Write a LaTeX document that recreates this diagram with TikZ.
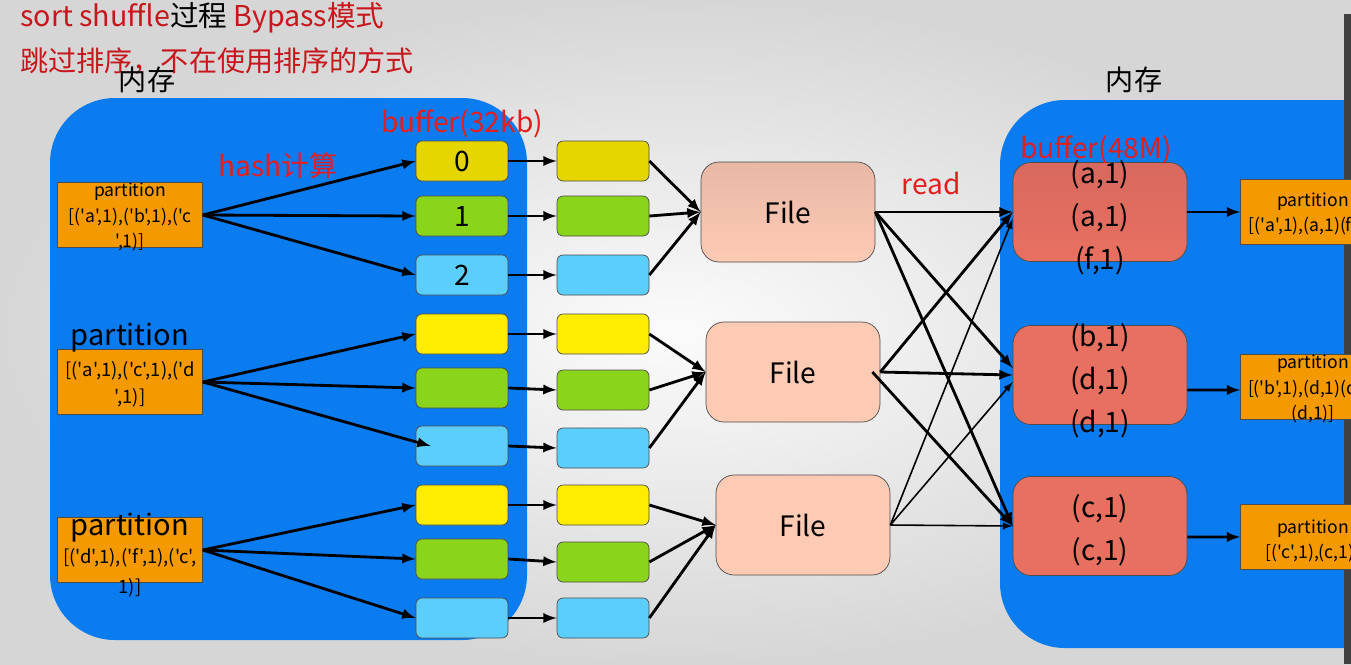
\documentclass[tikz,border=0pt]{standalone}
\usepackage{fontspec}
\newfontfamily\slidefont{Noto Sans CJK SC}
\usetikzlibrary{arrows}

\definecolor{memblue}{RGB}{10,124,240}
\definecolor{partorange}{RGB}{245,153,0}
\definecolor{bufolive}{RGB}{229,214,0}
\definecolor{bufyellow}{RGB}{255,236,0}
\definecolor{bufgreen}{RGB}{138,213,27}
\definecolor{bufblue}{RGB}{92,206,251}
\definecolor{filepeach}{RGB}{253,202,180}
\definecolor{filetop}{RGB}{232,184,166}
\definecolor{memred}{RGB}{232,112,96}
\definecolor{memredtop}{RGB}{216,105,95}
\definecolor{lblred}{RGB}{228,30,30}
\definecolor{titlered}{RGB}{200,22,29}

\begin{document}
\slidefont
\begin{tikzpicture}[x=0.02cm,y=-0.02cm,
  bufbox/.style={draw=gray!60!black,rounded corners=0.12cm,minimum width=1.84cm,minimum height=0.8cm,inner sep=0pt,font=\fontsize{16}{16}\selectfont},
  filebox/.style={draw=gray!60!black,fill=filepeach,rounded corners=0.36cm,minimum width=3.48cm,minimum height=2cm,font=\fontsize{16}{16}\selectfont},
  rambox/.style={draw=gray!60!black,fill=memred,rounded corners=0.36cm,minimum width=3.48cm,minimum height=1.98cm},
  partbox/.style={draw=gray!60!black,fill=partorange,minimum width=2.9cm,minimum height=1.3cm,inner sep=0pt},
  smalltxt/.style={align=center,inner sep=0pt,font=\fontsize{10}{14.5}\selectfont},
  pairtxt/.style={align=center,inner sep=0pt,font=\fontsize{16}{24.5}\selectfont},
  redlbl/.style={text=lblred,inner sep=0pt,font=\fontsize{16}{16}\selectfont},
  blacklbl/.style={inner sep=0pt,font=\fontsize{16}{16}\selectfont},
  link/.style={-latex,line width=1.6pt},
  thinlink/.style={-latex,line width=0.9pt}]
\useasboundingbox (0,0) rectangle (1351,664);
\clip (0,0) rectangle (1351,664);
% slide background
\shade[inner color=gray!3,outer color=gray!32] (0,0) rectangle (1351,664);
\fill[gray!50!black] (1344,14) rectangle (1351,664);

% title lines
\node[anchor=west,inner sep=0pt,font=\fontsize{16.3}{16.3}\selectfont] (title) at (20,18)
  {\textcolor{titlered}{sort shuffle}过程 \textcolor{titlered}{Bypass模式}};
\node[anchor=west,inner sep=0pt,text=titlered,font=\fontsize{16}{16}\selectfont] (subtitle) at (20,61)
  {跳过排序，不在使用排序的方式};

% memory regions
\fill[memblue,rounded corners=1.3cm] (50,98) rectangle (527,640);
\fill[memblue,rounded corners=1.3cm] (1000,100) rectangle (1420,648);
\fill[gray!50!black] (1344,100) rectangle (1351,664);
\node[blacklbl] (memL) at (147,80) {内存};
\node[blacklbl] (memR) at (1134,80) {内存};

% map side partitions
\node[partbox] (p1) at (130,215) {};
\node[smalltxt] (p1txt) at (130,217) {partition\\{[('a',1),('b',1),('c}\\{',1)]}};
\node[partbox] (p2) at (130,382) {};
\node[blacklbl,font=\fontsize{16.5}{16.5}\selectfont] (p2lbl) at (130,338) {partition};
\node[smalltxt,font=\fontsize{10.5}{15.3}\selectfont] (p2txt) at (130,384) {{[('a',1),('c',1),('d}\\{',1)]}};
\node[partbox] (p3) at (130,550) {};
\node[blacklbl,font=\fontsize{16.5}{16.5}\selectfont] (p3lbl) at (130,528) {partition};
\node[smalltxt,font=\fontsize{10.5}{17}\selectfont] (p3txt) at (130,573) {{[('d',1),('f',1),('c',}\\{1)]}};

\node[redlbl] (hashlbl) at (278,166) {hash计算};
\node[redlbl] (buflbl) at (462,124) {buffer(32kb)};

% buffers, first column
\node[bufbox,fill=bufolive] (a1) at (462,161) {0};
\node[bufbox,fill=bufgreen] (a2) at (462,216) {1};
\node[bufbox,fill=bufblue] (a3) at (462,275) {2};
\node[bufbox,fill=bufyellow] (a4) at (462,334) {};
\node[bufbox,fill=bufgreen] (a5) at (462,388) {};
\node[bufbox,fill=bufblue] (a6) at (462,446) {};
\node[bufbox,fill=bufyellow] (a7) at (462,505) {};
\node[bufbox,fill=bufgreen] (a8) at (462,559) {};
\node[bufbox,fill=bufblue] (a9) at (462,618) {};
% buffers, second column
\node[bufbox,fill=bufolive] (b1) at (603,161) {};
\node[bufbox,fill=bufgreen] (b2) at (603,216) {};
\node[bufbox,fill=bufblue] (b3) at (603,275) {};
\node[bufbox,fill=bufyellow] (b4) at (603,334) {};
\node[bufbox,fill=bufgreen] (b5) at (603,390) {};
\node[bufbox,fill=bufblue] (b6) at (603,448) {};
\node[bufbox,fill=bufyellow] (b7) at (603,505) {};
\node[bufbox,fill=bufgreen] (b8) at (603,562) {};
\node[bufbox,fill=bufblue] (b9) at (603,618) {};

% files
\node[filebox,top color=filetop,bottom color=filepeach] (f1) at (788,212) {File};
\node[filebox] (f2) at (793,372) {File};
\node[filebox] (f3) at (803,525) {File};
\node[redlbl] (readlbl) at (931,183) {read};

% reduce side buffers
\node[rambox,top color=memredtop,bottom color=memred] (r1) at (1100,212) {};
\node[rambox] (r2) at (1100,375) {};
\node[rambox] (r3) at (1100,526) {};
\node[redlbl] (buf48) at (1096,150) {buffer(48M)};
\node[pairtxt] (r1txt) at (1100,218) {(a,1)\\(a,1)\\(f,1)};
\node[pairtxt] (r2txt) at (1100,381) {(b,1)\\(d,1)\\(d,1)};
\node[pairtxt] (r3txt) at (1100,530) {(c,1)\\(c,1)};

% reduce side partitions
\node[partbox] (q1) at (1313,212) {};
\node[smalltxt] (q1txt) at (1313,214) {partition\\{[('a',1),(a,1)(f,1)]}};
\node[partbox] (q2) at (1313,387) {};
\node[smalltxt,font=\fontsize{10}{14.3}\selectfont] (q2txt) at (1313,389) {partition\\{[('b',1),(d,1)(d,1)}\\(d,1)]};
\node[partbox] (q3) at (1313,537) {};
\node[smalltxt] (q3txt) at (1313,541) {partition\\{[('c',1),(c,1)]}};

% hash to buffers
\draw[link] (p1.east) -- (a1.west);
\draw[link] (p1.east) -- (a2.west);
\draw[link] (p1.east) -- (a3.west);
\draw[link] (p2.east) -- (a4.west);
\draw[link] (p2.east) -- (a5.west);
\draw[link] (p2.east) -- ([xshift=0.3cm]a6.west);
\draw[link] (p3.east) -- (a7.west);
\draw[link] (p3.east) -- (a8.west);
\draw[link] (p3.east) -- (a9.west);
% spill
\draw[link] (a1.east) -- (b1.west);
\draw[link] (a2.east) -- (b2.west);
\draw[link] (a3.east) -- (b3.west);
\draw[link] (a4.east) -- (b4.west);
\draw[link] (a5.east) -- (b5.west);
\draw[link] (a6.east) -- (b6.west);
\draw[link] (a7.east) -- (b7.west);
\draw[link] (a8.east) -- (b8.west);
\draw[link] (a9.east) -- (b9.west);
% merge into files
\draw[link] (b1.east) -- (f1.west);
\draw[link] (b2.east) -- (f1.west);
\draw[link] (b3.east) -- (f1.west);
\draw[link] (b4.east) -- (f2.west);
\draw[link] (b5.east) -- (f2.west);
\draw[link] (b6.east) -- (f2.west);
\draw[link] (b7.east) -- (f3.west);
\draw[link] (b8.east) -- (f3.west);
\draw[link] (b9.east) -- (f3.west);
% read
\draw[link] (f1.east) -- (r1.west);
\draw[link] (f1.east) -- ([yshift=0.14cm]r2.west);
\draw[link] (f1.east) -- (r3.west);
\draw[link] (f2.east) -- (r1.west);
\draw[link] (f2.east) -- (r2.west);
\draw[link] ([xshift=-0.16cm]f2.east) -- (r3.west);
\draw[thinlink] (f3.east) -- ([yshift=-0.14cm]r1.west);
\draw[thinlink] (f3.east) -- ([yshift=-0.14cm]r2.west);
\draw[thinlink] (f3.east) -- (r3.west);
% to partitions
\draw[link] (r1.east) -- (q1.west);
\draw[link] ([yshift=-0.3cm]r2.east) -- ([yshift=-0.06cm]q2.west);
\draw[link] ([yshift=-0.22cm]r3.east) -- (q3.west);
\end{tikzpicture}
\end{document}
